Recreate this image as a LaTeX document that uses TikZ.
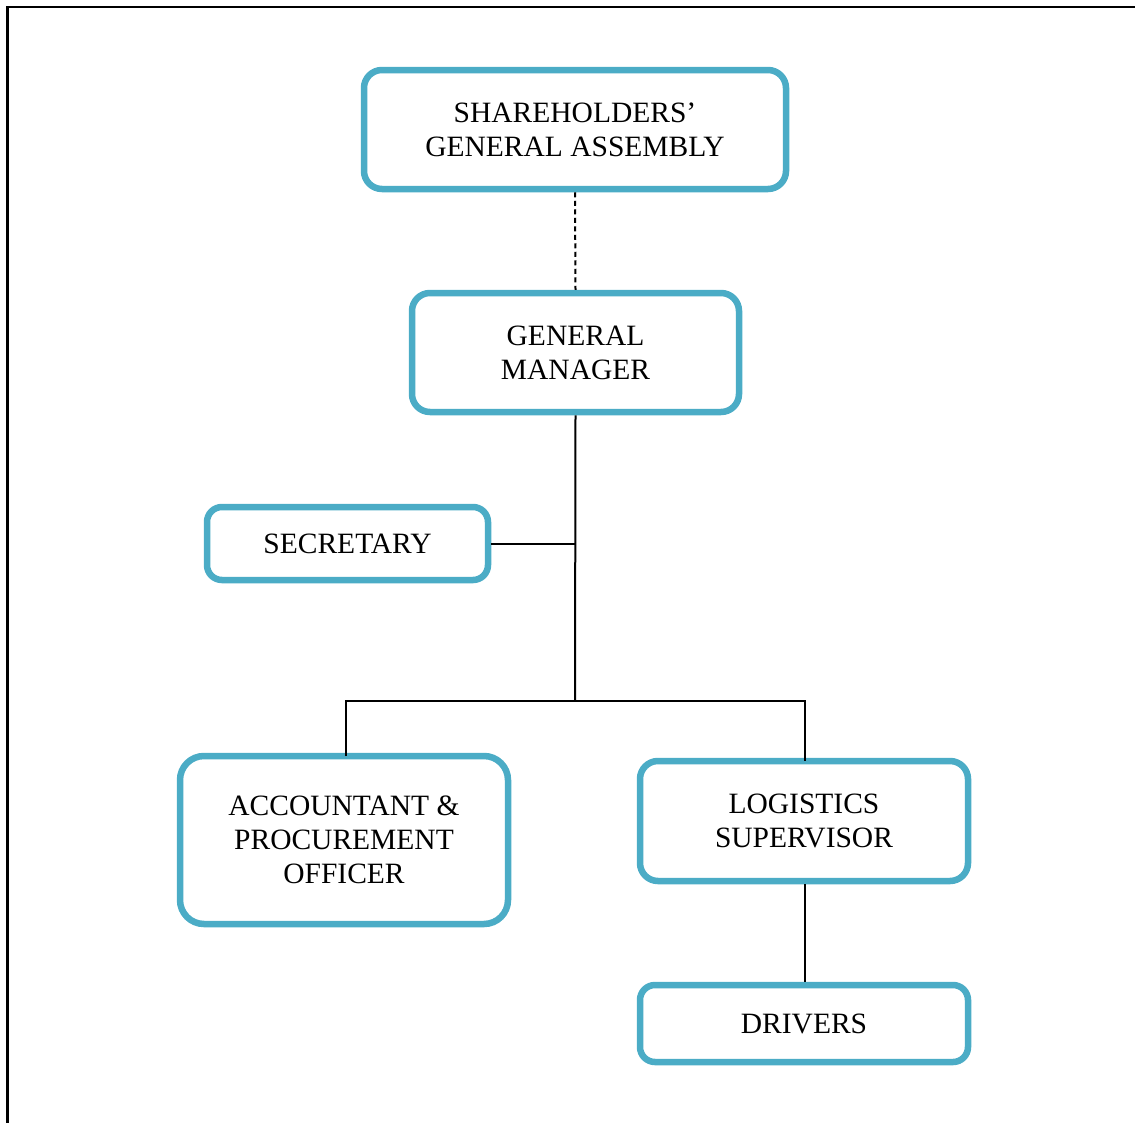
\documentclass[tikz,border=0pt]{standalone}
\usepackage{fontspec}
\setmainfont{Liberation Serif}
\definecolor{boxblue}{HTML}{4BACC6}
\begin{document}
\begin{tikzpicture}[x=1pt,y=-1pt,
  orgbox/.style={draw=boxblue, line width=6.5pt, rounded corners=18pt, fill=white,
    inner sep=0pt, align=center, font=\fontsize{29.5}{34}\selectfont},
  link/.style={line width=2pt, black}]
\useasboundingbox (0,0) rectangle (1135,1122);
\draw[line width=2.5pt] (7.5,1140) -- (7.5,7) -- (1150,7);
\node[orgbox, minimum width=422pt, minimum height=119pt] (sga) at (575,129.5) {SHAREHOLDERS’\\GENERAL ASSEMBLY};
\node[orgbox, minimum width=327pt, minimum height=119pt] (gm) at (575.5,352.5) {GENERAL\\MANAGER};
\node[orgbox, minimum width=281pt, minimum height=73pt, rounded corners=15pt] (sec) at (347.5,543.5) {SECRETARY};
\node[orgbox, minimum width=328pt, minimum height=168pt, rounded corners=24pt] (acc) at (344,840) {ACCOUNTANT \&\\PROCUREMENT\\OFFICER};
\node[orgbox, minimum width=328pt, minimum height=120pt] (log) at (804,821) {LOGISTICS\\SUPERVISOR};
\node[orgbox, minimum width=328pt, minimum height=77pt, rounded corners=15pt] (drv) at (804,1023.5) {DRIVERS};
\coordinate (j) at (575,701);
\coordinate (accTop) at (346,756);
\coordinate (logTop) at (805,761);
\draw[link, dash pattern=on 5pt off 3.5pt] (sga.south) -- (gm.north);
\draw[link] (gm.south) -- (j);
\draw[link] (sec.east) -- (sec.east -| gm.south);
\draw[link] (accTop) |- (j) -| (logTop);
\draw[link] (log.south -| logTop) -- (drv.north -| logTop);
\end{tikzpicture}
\end{document}
